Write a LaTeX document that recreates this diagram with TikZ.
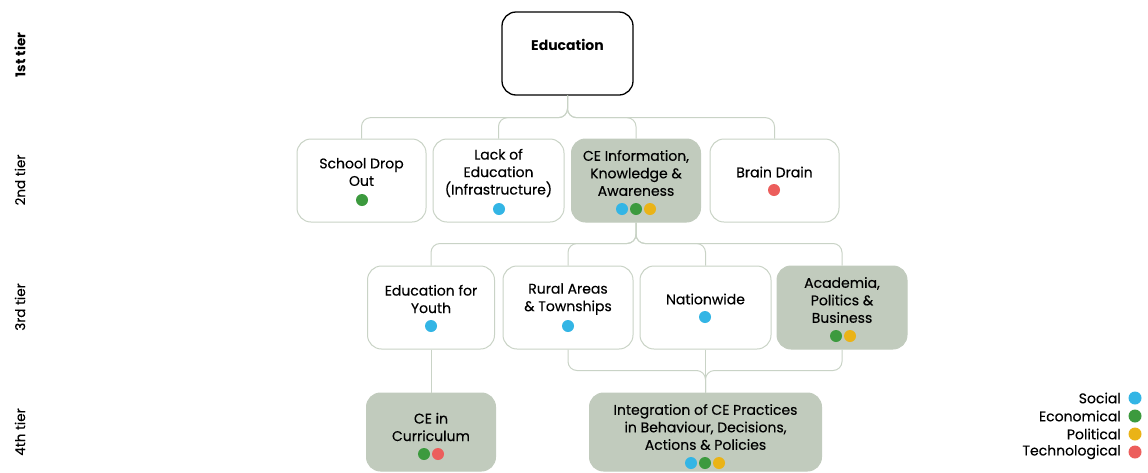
\documentclass[tikz,border=0pt]{standalone}
\usepackage{fontspec}
\setmainfont{Poppins}
\newfontfamily\medfont{Poppins}[FakeBold=0.3]
\usetikzlibrary{calc}
\definecolor{soc}{HTML}{33B5E5}
\definecolor{eco}{HTML}{3C9A3E}
\definecolor{pol}{HTML}{EAB317}
\definecolor{tec}{HTML}{EC5E5C}
\definecolor{sage}{HTML}{C1CBBD}
\definecolor{boxline}{HTML}{C9D3C6}
\newcommand{\tdot}[2]{\fill[#1] #2 circle (6pt);}
\tikzset{
  box/.style={draw=boxline, line width=1pt, fill=white, rounded corners=14pt, minimum height=83pt, inner sep=0pt},
  hbox/.style={box, fill=sage, draw=sage},
  link/.style={draw=boxline, line width=1pt, rounded corners=9pt},
  lbl/.style={align=center, inner sep=0pt, font=\medfont\fontsize{14}{17.5}\selectfont},
  tier/.style={rotate=90, inner sep=0pt, font=\medfont\fontsize{13.5}{15}\selectfont}
}
\begin{document}
\begin{tikzpicture}[x=1pt,y=-1pt]
\useasboundingbox (0,0) rectangle (1148,472);
% tiers
\node[tier,font=\fontsize{13.5}{15}\selectfont\bfseries] (t1) at (20,55) {1st tier};
\node[tier] (t2) at (20,180) {2nd tier};
\node[tier] (t3) at (20,307) {3rd tier};
\node[tier] (t4) at (20,432) {4th tier};

% boxes
\node[box,draw=black,line width=1.3pt,minimum width=131pt] (edu) at (567.5,53.5) {};
\node[box,minimum width=129pt] (sdo) at (361.5,180.5) {};
\node[box,minimum width=131pt] (loe) at (498.5,180.5) {};
\node[hbox,minimum width=129pt] (cei) at (636,180.5) {};
\node[box,minimum width=129pt] (bd) at (774.5,180.5) {};
\node[box,minimum width=127pt] (efy) at (431,307.5) {};
\node[box,minimum width=130pt] (rur) at (568,307.5) {};
\node[box,minimum width=131pt] (nat) at (705.5,307.5) {};
\node[hbox,minimum width=130pt] (aca) at (842,307.5) {};
\node[hbox,minimum width=129pt,minimum height=78pt] (cur) at (431,432) {};
\node[hbox,minimum width=232pt,minimum height=78pt] (int) at (705.5,432) {};

% links
\foreach \c in {sdo,loe,cei,bd}
  \draw[link] (edu.south) -- ++(0,22) -| (\c.north);
\foreach \c in {efy,rur,nat,aca}
  \draw[link] (cei.south) -- ++(0,21) -| (\c.north);
\draw[link] (efy.south) -- (cur.north);
\draw[link] (nat.south) -- (int.north);
\draw[link] (rur.south) -- ++(0,21) -| (int.north);
\draw[link] (aca.south) -- ++(0,21) -| (int.north);

% texts
\node[lbl,font=\fontsize{14}{17.5}\selectfont\bfseries] (edu-t) at (567.5,45) {Education};
\node[lbl] (sdo-t) at (361.5,172) {School Drop\\Out};
\node[lbl] (loe-t) at (498.5,173) {Lack of\\Education\\(Infrastructure)};
\node[lbl] (cei-t) at (636,173) {CE Information,\\Knowledge \&\\Awareness};
\node[lbl] (bd-t) at (774.5,172) {Brain Drain};
\node[lbl] (efy-t) at (431,299) {Education for\\Youth};
\node[lbl] (rur-t) at (568,299) {Rural Areas\\\& Townships};
\node[lbl] (nat-t) at (705.5,299) {Nationwide};
\node[lbl] (aca-t) at (842,300) {Academia,\\Politics \&\\Business};
\node[lbl] (cur-t) at (431,427) {CE in\\Curriculum};
\node[lbl] (int-t) at (705.5,427) {Integration of CE Practices\\in Behaviour, Decisions,\\Actions \& Policies};

% dots
\tdot{eco}{(362,200)}
\tdot{soc}{(499,209)}
\tdot{soc}{(622,209)} \tdot{eco}{(636,209)} \tdot{pol}{(650,209)}
\tdot{tec}{(774,190)}
\tdot{soc}{(431,326)}
\tdot{soc}{(568,326)}
\tdot{soc}{(705,317)}
\tdot{eco}{(836,336)} \tdot{pol}{(850,336)}
\tdot{eco}{(424,454)} \tdot{tec}{(438,454)}
\tdot{soc}{(691,463)} \tdot{eco}{(705,463)} \tdot{pol}{(719,463)}

% legend
\foreach \t/\c/\y in {Social/soc/398,Economical/eco/416,Political/pol/434,Technological/tec/452}{
  \node[lbl,anchor=east] (lg-\c) at (1121,\y) {\t};
  \fill[\c] (1135,\y) circle (6.5pt);
}
\end{tikzpicture}
\end{document}
